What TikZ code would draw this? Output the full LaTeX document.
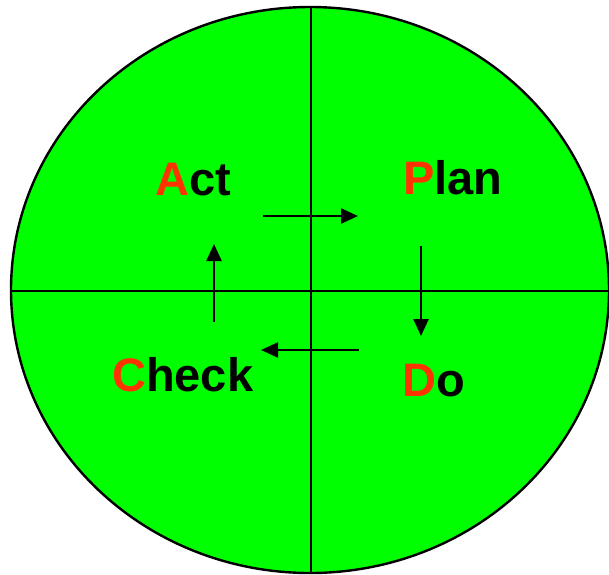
\documentclass[tikz,border=0pt]{standalone}
\usepackage{xcolor}
\usepackage{fontspec}
\usepackage{tikz}
\usetikzlibrary{positioning,arrows.meta}
\setmainfont{Liberation Sans}
\definecolor{cyclegreen}{RGB}{0,255,0}
\definecolor{cyclered}{RGB}{255,51,0}
\tikzset{
  phase/.style={anchor=base west,inner sep=0pt,font=\fontsize{47}{50}\selectfont\bfseries},
  flow/.style={line width=2.4pt,-{Triangle[length=17pt,width=15pt]}}
}
\newcommand{\first}[1]{\textcolor{cyclered}{#1}}

\begin{document}
\begin{tikzpicture}[x=1pt,y=-1pt]
    \useasboundingbox (0,0) rectangle (609,574);
    \filldraw[fill=cyclegreen,line width=2.4pt] (310,290) ellipse [x radius=299,y radius=283];
    \draw[line width=2.4pt] (10,291) -- (609,291);
    \draw[line width=2.4pt] (311,7) -- (311,574);
    \node[phase] (act) at (155,195) {\first{A}ct};
    \node[phase] (plan) at (403,194) {\first{P}lan};
    \node[phase] (check) at (112,391) {\first{C}heck};
    \node[phase] (do) at (402,396) {\first{D}o};
    % arrow ends
    \coordinate (a1) at (263,216);
    \coordinate (a2) at (358,216);
    \coordinate (b1) at (421,246);
    \coordinate (b2) at (421,336);
    \coordinate (c1) at (359,350);
    \coordinate (c2) at (261,350);
    \coordinate (d1) at (214,322);
    \coordinate (d2) at (214,244);
    \draw[flow] (a1) -- (a2);
    \draw[flow] (b1) -- (b2);
    \draw[flow] (c1) -- (c2);
    \draw[flow] (d1) -- (d2);
  \end{tikzpicture}
\end{document}
